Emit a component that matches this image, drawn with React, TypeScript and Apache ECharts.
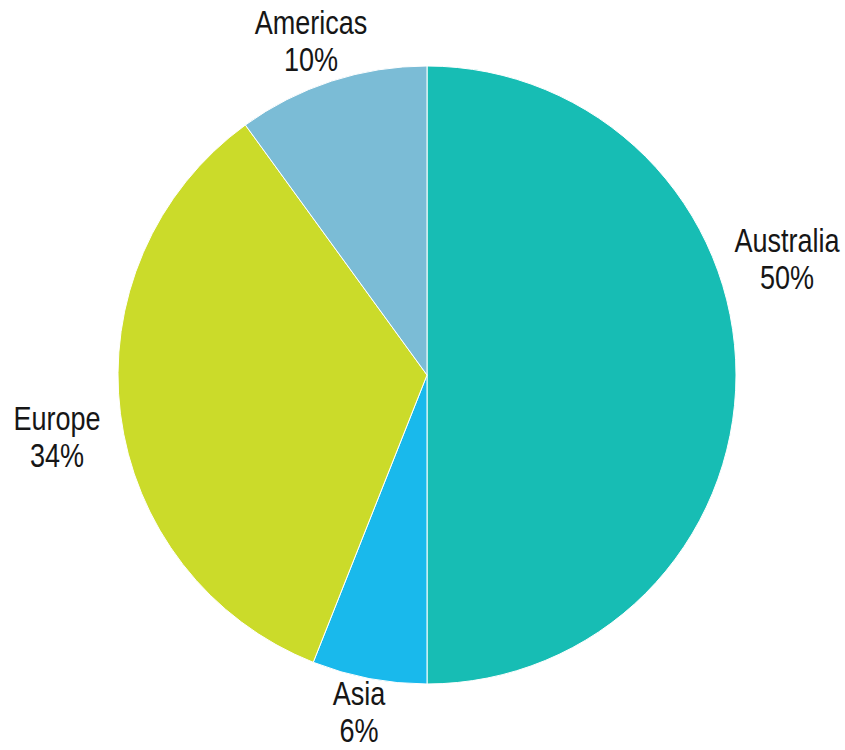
import React, { useEffect, useRef } from "react";
import * as echarts from "echarts";

const categories = ["Australia", "Asia", "Europe", "Americas"];
const values = [50, 6, 34, 10];
const colors = ["#17BDB4", "#19B9EC", "#CBDB2A", "#7BBCD6"];

// label anchor centres (layout only)
const labelPos: [number, number][] = [
  [787, 259],
  [359, 712],
  [57, 437],
  [311, 41],
];

export default function App() {
  const ref = useRef<HTMLDivElement>(null);
  useEffect(() => {
    if (!ref.current) return;
    const chart = echarts.init(ref.current, null, { renderer: "svg" });
    const total = values.reduce((a, b) => a + b, 0);
    chart.setOption({
      animation: false,
      backgroundColor: "#ffffff",
      graphic: categories.map((name, i) => ({
        type: "text",
        x: labelPos[i][0],
        y: labelPos[i][1],
        scaleX: 0.82,
        z: 10,
        style: {
          text: `${name}\n${Math.round((values[i] / total) * 100)}%`,
          fontFamily: "'Liberation Sans', Arial, sans-serif",
          fontSize: 33,
          lineHeight: 37,
          fill: "#161616",
          align: "center",
          verticalAlign: "middle",
        },
      })),
      series: [
        {
          type: "pie",
          center: [427, 375],
          radius: 309,
          startAngle: 90,
          clockwise: true,
          itemStyle: { borderColor: "#ffffff", borderWidth: 1 },
          label: { show: false },
          labelLine: { show: false },
          data: categories.map((name, i) => ({
            name,
            value: values[i],
            itemStyle: { color: colors[i] },
          })),
        },
      ],
    });
    return () => chart.dispose();
  }, []);
  return (
    <div
      ref={ref}
      style={{ position: "fixed", left: 0, top: 0, width: 845, height: 750 }}
    />
  );
}
